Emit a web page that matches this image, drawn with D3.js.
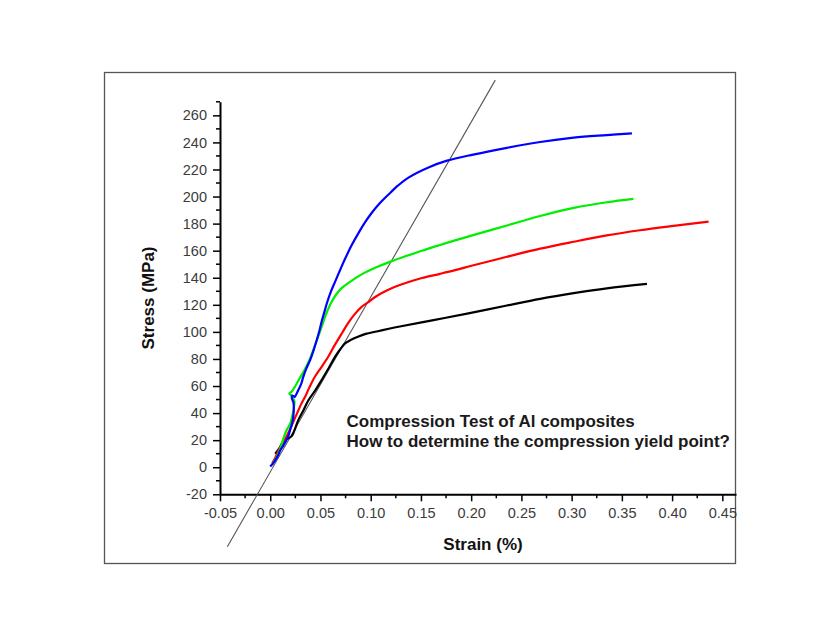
<!DOCTYPE html>
<html>
<head>
<meta charset="utf-8">
<script src="https://cdn.jsdelivr.net/npm/d3@7"></script>
<style>
  html, body { margin: 0; padding: 0; background: #ffffff; }
  svg { display: block; }
  text { font-family: "Liberation Sans", Arial, sans-serif; }
</style>
</head>
<body>
<svg id="chart" width="837" height="639"></svg>
<script>
// ---------- data (strain %, stress MPa) ----------
const blueData = [[0.000,0.5],[0.004,4],[0.008,9],[0.010,12.5],[0.013,16],[0.016,20],[0.018,23],[0.020,28],[0.022,33],[0.023,38],[0.0235,44],[0.023,48],[0.0215,51],[0.022,53],[0.0245,52],[0.026,54],[0.028,57],[0.031,62],[0.033,67],[0.036,73],[0.0396,79],[0.043,86],[0.0463,94],[0.049,101],[0.0513,108],[0.054,115],[0.0563,121],[0.060,129],[0.0645,137],[0.070,146.5],[0.0745,154],[0.081,164],[0.0878,173],[0.094,180.5],[0.1011,188],[0.109,195],[0.1177,201.5],[0.127,208],[0.1376,214],[0.1575,221.5],[0.176,226.5],[0.202,231],[0.2356,236],[0.2687,240.3],[0.302,243.5],[0.335,245.4],[0.360,246.7]];
const greenData = [[0.002,2],[0.006,7],[0.010,14],[0.013,21],[0.016,27],[0.0197,32],[0.022,38],[0.0235,44],[0.024,49],[0.021,53],[0.019,54.5],[0.0215,56],[0.025,60],[0.028,64],[0.032,69],[0.0363,75],[0.040,81],[0.043,87],[0.047,95],[0.0513,104],[0.055,112],[0.0596,120],[0.0625,124],[0.066,128],[0.0713,132.5],[0.0794,137],[0.091,142.5],[0.105,147.5],[0.121,152.3],[0.1375,156.6],[0.151,160],[0.169,164.2],[0.184,167.6],[0.202,171.5],[0.2356,178.6],[0.2687,185.6],[0.302,191.6],[0.335,195.8],[0.3615,198.3]];
const redData = [[0.002,3],[0.005,7],[0.008,12],[0.011,16],[0.015,21],[0.019,27],[0.022,32],[0.025,37],[0.028,42],[0.031,47],[0.0347,52],[0.039,59],[0.0446,67],[0.051,74],[0.058,82],[0.064,90],[0.0713,99],[0.078,107],[0.0845,113.5],[0.091,118.5],[0.0977,122],[0.1044,125.8],[0.114,129.8],[0.1243,133.3],[0.137,136.7],[0.151,139.8],[0.169,142.9],[0.184,145.6],[0.2023,149.2],[0.2356,155.5],[0.2687,161.5],[0.302,166.6],[0.335,171.3],[0.368,175.1],[0.4015,178.3],[0.4363,181.4]];
const blackData = [[0.005,10],[0.009,14],[0.013,19],[0.017,21],[0.0214,23],[0.025,29],[0.028,35],[0.033,42],[0.038,49.5],[0.045,57],[0.0513,64.5],[0.058,73],[0.0645,81.5],[0.0695,87],[0.0745,91.5],[0.080,94],[0.086,96],[0.095,98.5],[0.106,100.3],[0.118,102.3],[0.129,104],[0.1625,108.7],[0.196,113.5],[0.2356,119.5],[0.2687,124.4],[0.302,128.6],[0.335,132.2],[0.375,135.5]];
const yieldLine = [[-0.0427,-58.7],[0.224,286]];

const xTickValues = [-0.05,0,0.05,0.10,0.15,0.20,0.25,0.30,0.35,0.40,0.45];
const xTickLabels = ["-0.05","0.00","0.05","0.10","0.15","0.20","0.25","0.30","0.35","0.40","0.45"];
const xMinorTicks = [-0.025,0.025,0.075,0.125,0.175,0.225,0.275,0.325,0.375,0.425];
const yTickValues = [-20,0,20,40,60,80,100,120,140,160,180,200,220,240,260];
const yMinorTicks = [-10,10,30,50,70,90,110,130,150,170,190,210,230,250,270];

const seriesColors = ["#0000ff","#00ee00","#ff0000","#000000"];
const annotation = ["Compression Test of Al composites","How to determine the compression yield point?"];
const xTitle = "Strain (%)";
const yTitle = "Stress (MPa)";

// ---------- drawing ----------
const svg = d3.select("#chart");

// frame
svg.append("rect").attr("x",104.5).attr("y",72.5).attr("width",631).attr("height",491)
  .attr("fill","#ffffff").attr("stroke","#555").attr("stroke-width",1.3);

const x = d3.scaleLinear().domain([-0.05, 0.4636]).range([220, 736]);
const y = d3.scaleLinear().domain([-20, 270]).range([494.3, 101.8]);

// axes
const xAxis = d3.axisBottom(x).tickValues(xTickValues).tickSize(7).tickPadding(6).tickSizeOuter(0)
  .tickFormat((d,i) => xTickLabels[i]);
const gx = svg.append("g").attr("transform", `translate(0,${y(-20)})`).call(xAxis);
gx.append("g").selectAll("line").data(xMinorTicks).join("line")
  .attr("x1", d => x(d)).attr("x2", d => x(d)).attr("y1", 0).attr("y2", 4)
  .attr("stroke","#000").attr("stroke-width",1.5);

const yAxis = d3.axisLeft(y).tickValues(yTickValues).tickSize(7).tickPadding(6).tickSizeOuter(0)
  .tickFormat((d,i) => String(yTickValues[i]));
const gy = svg.append("g").attr("transform", `translate(${x(-0.05)},0)`).call(yAxis);
gy.append("g").selectAll("line").data(yMinorTicks).join("line")
  .attr("y1", d => y(d)).attr("y2", d => y(d)).attr("x1", 0).attr("x2", -4)
  .attr("stroke","#000").attr("stroke-width",1.5);

[gx, gy].forEach(g => {
  g.select(".domain").attr("stroke","#000").attr("stroke-width",2);
  g.selectAll(".tick line").attr("stroke","#000").attr("stroke-width",1.5);
  g.selectAll(".tick text").attr("fill","#3c3c3c")
    .style("font-family","'Liberation Sans', Arial, sans-serif").style("font-size","14.5px");
});

// axis titles
svg.append("text").attr("x", 483).attr("y", 550).attr("text-anchor","middle")
  .style("font-size","17px").style("font-weight","bold").attr("fill","#111").text(xTitle);
svg.append("text").attr("transform","translate(154,298) rotate(-90)").attr("text-anchor","middle")
  .style("font-size","17px").style("font-weight","bold").attr("fill","#111").text(yTitle);

// yield line
const line = d3.line().x(d => x(d[0])).y(d => y(d[1]));
svg.append("path").datum(yieldLine).attr("d", line).attr("fill","none")
  .attr("stroke","#555").attr("stroke-width",1.1);

// series
const curve = d3.line().x(d => x(d[0])).y(d => y(d[1])).curve(d3.curveCatmullRom.alpha(0.5));
[blackData, redData, greenData, blueData].forEach((data, i) => {
  const color = [seriesColors[3], seriesColors[2], seriesColors[1], seriesColors[0]][i];
  svg.append("path").datum(data).attr("d", curve).attr("fill","none")
    .attr("stroke", color).attr("stroke-width", 2.2).attr("stroke-linejoin","round");
});

// annotation
svg.append("g").selectAll("text").data(annotation).join("text")
  .attr("x", 346.5).attr("y", (d,i) => 426.5 + i*20)
  .style("font-size","17px").style("font-weight","bold").attr("fill","#1a1a1a")
  .text(d => d);
</script>
</body>
</html>
